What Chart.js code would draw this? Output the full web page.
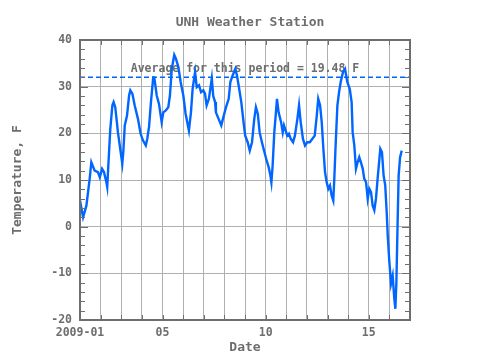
<!DOCTYPE html>
<html>
<head>
<meta charset="utf-8">
<script src="https://cdn.jsdelivr.net/npm/chart.js@4/dist/chart.umd.min.js"></script>
<style>
  body { margin: 0; background: #fff; }
</style>
</head>
<body>
<canvas id="chart" width="480" height="360"></canvas>
<script>
// days since 2009-01-01 00:00, temperature in F
const days = [0.00, 0.15, 0.31, 0.47, 0.55, 0.71, 0.87, 0.96, 1.07, 1.16, 1.28, 1.32, 1.39, 1.47, 1.57, 1.63, 1.71, 1.84, 1.95, 2.05,
  2.10, 2.17, 2.28, 2.38, 2.44, 2.54, 2.65, 2.81, 2.94, 3.05, 3.19, 3.26, 3.35, 3.44, 3.55, 3.60, 3.72, 3.83, 3.96, 4.04,
  4.16, 4.28, 4.36, 4.45, 4.57, 4.65, 4.77, 4.88, 5.01, 5.12, 5.28, 5.38, 5.46, 5.58, 5.66, 5.77, 5.87, 5.98, 6.06, 6.14,
  6.25, 6.39, 6.46, 6.55, 6.59, 6.72, 6.85, 6.97, 7.08, 7.21, 7.29, 7.40, 7.53, 7.61, 7.69, 7.82, 7.94, 8.01, 8.13, 8.23,
  8.34, 8.45, 8.53, 8.62, 8.71, 8.82, 8.94, 9.03, 9.15, 9.23, 9.28, 9.34, 9.42, 9.50, 9.55, 9.63, 9.75, 9.83, 9.89, 10.05,
  10.13, 10.22, 10.33, 10.42, 10.54, 10.62, 10.70, 10.81, 10.91, 11.02, 11.14, 11.26, 11.38, 11.48, 11.55, 11.64, 11.72, 11.80, 11.88, 11.96,
  12.04, 12.12, 12.20, 12.28, 12.33, 12.40, 12.48, 12.56, 12.64, 12.75, 12.85, 12.96, 13.08, 13.17, 13.22, 13.30, 13.38, 13.46, 13.54, 13.62,
  13.71, 13.78, 13.87, 13.95, 14.03, 14.11, 14.19, 14.27, 14.35, 14.43, 14.51, 14.56, 14.64, 14.72, 14.80, 14.87, 14.92, 15.00, 15.08, 15.16,
  15.24, 15.29, 15.34, 15.40, 15.45, 15.52, 15.60];
const temps = [5.6, 2.0, 4.5, 10.3, 13.8, 12.0, 11.7, 10.6, 12.4, 11.7, 9.5, 8.5, 14.5, 21.0, 26.0, 26.7, 25.6, 20.2, 16.7, 13.5,
  16.0, 21.7, 23.8, 28.1, 29.2, 28.5, 26.0, 23.1, 19.9, 18.5, 17.4, 18.8, 21.5, 26.7, 32.0, 32.0, 28.1, 26.3, 22.4, 24.5,
  24.9, 25.6, 28.1, 33.8, 36.8, 36.0, 34.2, 31.0, 28.1, 24.2, 20.6, 24.5, 29.5, 33.1, 29.9, 30.3, 28.8, 29.2, 28.5, 26.0,
  27.4, 31.8, 28.0, 26.7, 24.5, 23.1, 21.7, 23.8, 25.6, 27.4, 31.0, 32.4, 33.8, 32.4, 30.3, 26.7, 22.0, 19.5, 18.1, 16.3,
  18.1, 23.1, 25.6, 24.2, 20.2, 18.1, 16.0, 14.5, 12.7, 11.0, 9.5, 13.1, 20.2, 24.5, 27.4, 24.5, 22.4, 20.2, 21.7, 19.5,
  19.9, 18.8, 18.1, 19.5, 23.1, 26.0, 22.4, 18.8, 17.4, 18.1, 18.1, 18.8, 19.5, 23.8, 27.4, 26.0, 22.4, 16.7, 11.7, 9.5,
  8.1, 8.8, 6.7, 5.6, 10.3, 18.1, 26.0, 28.8, 31.0, 33.1, 33.8, 31.0, 29.5, 26.7, 20.2, 17.4, 12.4, 13.8, 14.9, 13.8,
  12.4, 10.3, 9.5, 6.0, 8.1, 7.4, 4.5, 3.5, 6.0, 10.3, 14.2, 16.7, 16.0, 11.0, 8.8, 3.1, -1.9, -7.6, -12.2, -10.5,
  -15.5, -17.6, -11.9, 1.0, 11.0, 14.9, 16.3];
const freezing = 32;
const average = 19.48;
const tickDays = [0, 4, 9, 14];
const tickLabels = ["2009-01", "05", "10", "15"];

const grey = "#6e6e6e";
const mono = "'DejaVu Sans Mono', monospace";

// text under the data, frame and inner tick marks on top
const framePlugin = {
  id: "frame",
  beforeDatasetsDraw(chart) {
    const { ctx, chartArea: a, scales } = chart;
    ctx.save();
    ctx.fillStyle = grey;
    ctx.textAlign = "center";
    ctx.textBaseline = "middle";
    ctx.font = "bold 11.5px " + mono;
    ctx.fillText("Average for this period = " + average.toFixed(2) + " F",
      (a.left + a.right) / 2, scales.y.getPixelForValue(freezing) - 8);
    ctx.restore();
  },
  afterDraw(chart) {
    const { ctx, chartArea: a, scales } = chart;
    ctx.save();
    ctx.strokeStyle = grey;
    ctx.lineWidth = 1;
    ctx.beginPath();
    for (let d = 1; d < 16; d++) {
      const px = Math.round(scales.x.getPixelForValue(d)) + 0.5;
      ctx.moveTo(px, a.bottom); ctx.lineTo(px, a.bottom - 5);
      ctx.moveTo(px, a.top); ctx.lineTo(px, a.top + 5);
    }
    for (let v = -18; v < 40; v += 2) {
      const py = Math.round(scales.y.getPixelForValue(v)) + 0.5;
      const len = v % 10 === 0 ? 8 : 5;
      ctx.moveTo(a.left, py); ctx.lineTo(a.left + len, py);
      ctx.moveTo(a.right, py); ctx.lineTo(a.right - len, py);
    }
    ctx.stroke();
    ctx.lineWidth = 2;
    ctx.strokeRect(a.left, a.top, a.right - a.left, a.bottom - a.top);

    ctx.fillStyle = grey;
    ctx.textAlign = "center";
    ctx.textBaseline = "middle";
    ctx.font = "bold 13px " + mono;
    ctx.fillText("UNH Weather Station", 250, 23);
    ctx.restore();
  }
};

new Chart(document.getElementById("chart"), {
  type: "line",
  data: {
    datasets: [
      {
        data: days.map((d, i) => ({ x: d, y: temps[i] })),
        borderColor: "#0066ff",
        borderWidth: 2.4,
        pointRadius: 0,
        tension: 0,
      },
      {
        data: [{ x: 0, y: freezing }, { x: 16, y: freezing }],
        borderColor: "#0066ff",
        borderWidth: 1.5,
        borderDash: [5, 3],
        pointRadius: 0,
      },
    ],
  },
  options: {
    responsive: false,
    animation: false,
    devicePixelRatio: 1,
    layout: { padding: { left: 0, right: 70, top: 40, bottom: 0 } },
    plugins: {
      legend: { display: false },
      tooltip: { enabled: false },
      title: { display: false },
    },
    scales: {
      x: {
        type: "linear",
        min: 0,
        max: 16,
        afterFit(s) { s.height = 40; },
        afterBuildTicks(s) {
          s.ticks = [];
          for (let d = 0; d <= 16; d++) s.ticks.push({ value: d });
        },
        ticks: {
          autoSkip: false,
          maxRotation: 0,
          padding: 6,
          color: grey,
          font: { family: mono, size: 11.5, weight: "bold" },
          callback: (v) => {
            const i = tickDays.indexOf(v);
            return i >= 0 ? tickLabels[i] : "";
          },
        },
        grid: { color: "#b0b0b0", drawTicks: false },
        border: { display: false },
        title: {
          display: true,
          text: "Date",
          color: grey,
          font: { family: mono, size: 13, weight: "bold" },
          padding: { top: 0, bottom: 5 },
        },
      },
      y: {
        min: -20,
        max: 40,
        afterFit(s) { s.width = 80; },
        ticks: {
          stepSize: 10,
          padding: 8,
          color: grey,
          font: { family: mono, size: 11.5, weight: "bold" },
        },
        grid: { color: "#b0b0b0", drawTicks: false },
        border: { display: false },
        title: {
          display: true,
          text: "Temperature, F",
          color: grey,
          font: { family: mono, size: 13, weight: "bold" },
          padding: { top: 10, bottom: 0 },
        },
      },
    },
  },
  plugins: [framePlugin],
});
</script>
</body>
</html>
